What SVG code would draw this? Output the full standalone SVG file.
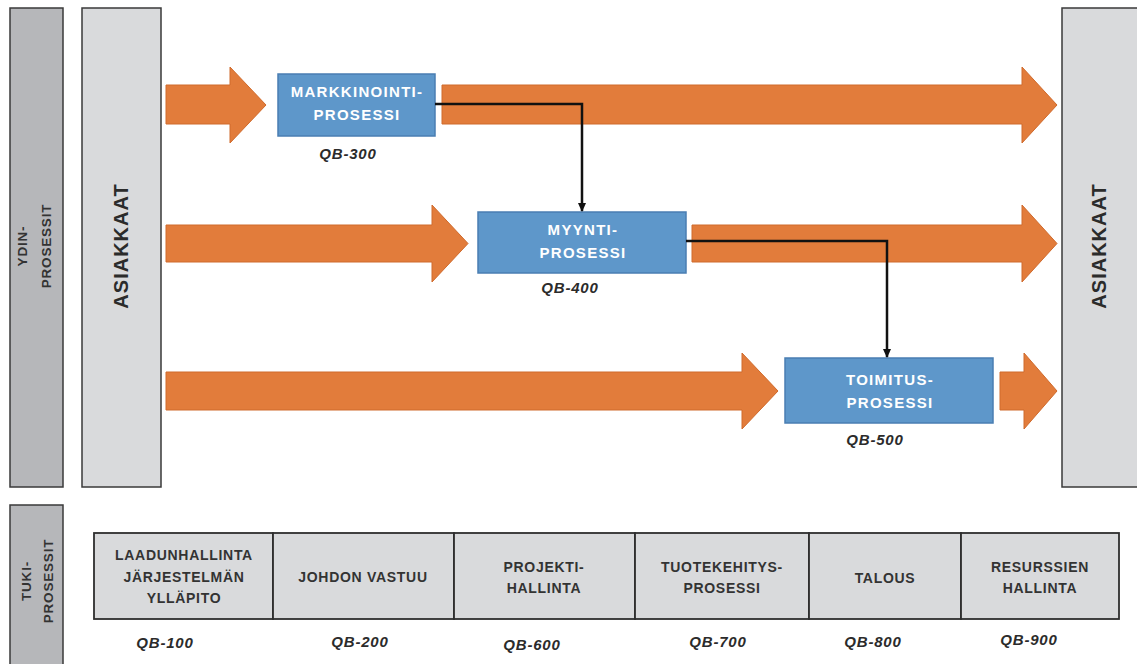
<svg xmlns="http://www.w3.org/2000/svg" width="1137" height="664" viewBox="0 0 1137 664">
<style>
.bar{fill:#b6b7ba;stroke:#3a3a3a;stroke-width:1.5}
.cust{fill:#d9dadc;stroke:#3a3a3a;stroke-width:1.5}
.cell{fill:#d9dadc;stroke:#2e2e2e;stroke-width:1.8}
.arr{fill:#e27c3b;stroke:#cf6a2c;stroke-width:1}
.proc{fill:#5e97ca;stroke:#4a7eb2;stroke-width:1.5}
.t{font-family:"Liberation Sans",Arial,sans-serif;font-weight:bold;text-anchor:middle}
.w{fill:#ffffff;font-size:15px;letter-spacing:1.3px}
.d{fill:#333333;font-size:14px;letter-spacing:0.7px}
.side{fill:#333333;font-size:13.5px;letter-spacing:0.8px}
.big{fill:#2b2b2b;font-size:20px;letter-spacing:1px}
.qb{fill:#2b2b2b;font-size:15px;font-style:italic;letter-spacing:0.8px}
.con{fill:none;stroke:#111;stroke-width:2.5}
</style>
<defs>
<marker id="ah" markerWidth="10" markerHeight="10" refX="8" refY="5" orient="auto" markerUnits="userSpaceOnUse">
<path d="M0,1 L9,5 L0,9 Z" fill="#111"/>
</marker>
</defs>

<g id="ydin">
<rect class="bar" x="10" y="8" width="53" height="479"/>
<text class="t side" transform="translate(27,246) rotate(-90)">YDIN-</text>
<text class="t side" transform="translate(51,246) rotate(-90)">PROSESSIT</text>
</g>
<g id="tuki">
<rect class="bar" x="10" y="505" width="53" height="170"/>
<text class="t side" transform="translate(31,581) rotate(-90)">TUKI-</text>
<text class="t side" transform="translate(53,581) rotate(-90)">PROSESSIT</text>
</g>
<g id="asiakkaat-left">
<rect class="cust" x="82" y="8" width="79" height="479"/>
<text class="t big" transform="translate(128,246) rotate(-90)">ASIAKKAAT</text>
</g>
<g id="asiakkaat-right">
<rect class="cust" x="1062" y="8" width="90" height="479"/>
<text class="t big" transform="translate(1106,246) rotate(-90)">ASIAKKAAT</text>
</g>

<g id="flows">
<path class="arr" d="M166,85 H230 V67 L266,105 L230,143 V124 H166 Z"/>
<path class="arr" d="M442,85 H1022 V67 L1057,105 L1022,143 V124 H442 Z"/>
<path class="arr" d="M166,225 H432 V205 L468,243.5 L432,282 V262 H166 Z"/>
<path class="arr" d="M692,225 H1022 V205 L1057,243.5 L1022,282 V262 H692 Z"/>
<path class="arr" d="M166,372 H742 V353 L778,391 L742,429 V410 H166 Z"/>
<path class="arr" d="M1000,372 H1024 V353 L1057,391 L1024,429 V410 H1000 Z"/>
</g>

<g id="markkinointi">
<rect class="proc" x="278" y="74" width="157" height="62"/>
<text class="t w" x="357" y="97">MARKKINOINTI-</text>
<text class="t w" x="357" y="120">PROSESSI</text>
<text class="t qb" x="348" y="159">QB-300</text>
</g>
<g id="myynti">
<rect class="proc" x="478" y="212" width="208" height="61"/>
<text class="t w" x="583" y="235">MYYNTI-</text>
<text class="t w" x="583" y="258">PROSESSI</text>
<text class="t qb" x="570" y="293">QB-400</text>
</g>
<g id="toimitus">
<rect class="proc" x="785" y="358" width="208" height="65"/>
<text class="t w" x="890" y="385">TOIMITUS-</text>
<text class="t w" x="890" y="408">PROSESSI</text>
<text class="t qb" x="875" y="445">QB-500</text>
</g>

<g id="connectors">
<path class="con" d="M435,104 H582 V211" marker-end="url(#ah)"/>
<path class="con" d="M686,241 H887 V357" marker-end="url(#ah)"/>
</g>

<g id="tukiprosessit">
<g id="c1"><rect class="cell" x="94" y="533" width="179" height="86"/>
<text class="t d" x="184" y="560">LAADUNHALLINTA</text>
<text class="t d" x="184" y="582">JÄRJESTELMÄN</text>
<text class="t d" x="184" y="603">YLLÄPITO</text>
<text class="t qb" x="165" y="648">QB-100</text></g>
<g id="c2"><rect class="cell" x="273" y="533" width="181" height="86"/>
<text class="t d" x="363" y="582">JOHDON VASTUU</text>
<text class="t qb" x="360" y="647">QB-200</text></g>
<g id="c3"><rect class="cell" x="454" y="533" width="181" height="86"/>
<text class="t d" x="544" y="572">PROJEKTI-</text>
<text class="t d" x="544" y="593">HALLINTA</text>
<text class="t qb" x="532" y="650">QB-600</text></g>
<g id="c4"><rect class="cell" x="635" y="533" width="174" height="86"/>
<text class="t d" x="722" y="572">TUOTEKEHITYS-</text>
<text class="t d" x="722" y="593">PROSESSI</text>
<text class="t qb" x="718" y="647">QB-700</text></g>
<g id="c5"><rect class="cell" x="809" y="533" width="152" height="86"/>
<text class="t d" x="885" y="583">TALOUS</text>
<text class="t qb" x="873" y="647">QB-800</text></g>
<g id="c6"><rect class="cell" x="961" y="533" width="158" height="86"/>
<text class="t d" x="1040" y="572">RESURSSIEN</text>
<text class="t d" x="1040" y="593">HALLINTA</text>
<text class="t qb" x="1029" y="645">QB-900</text></g>
</g>
</svg>
